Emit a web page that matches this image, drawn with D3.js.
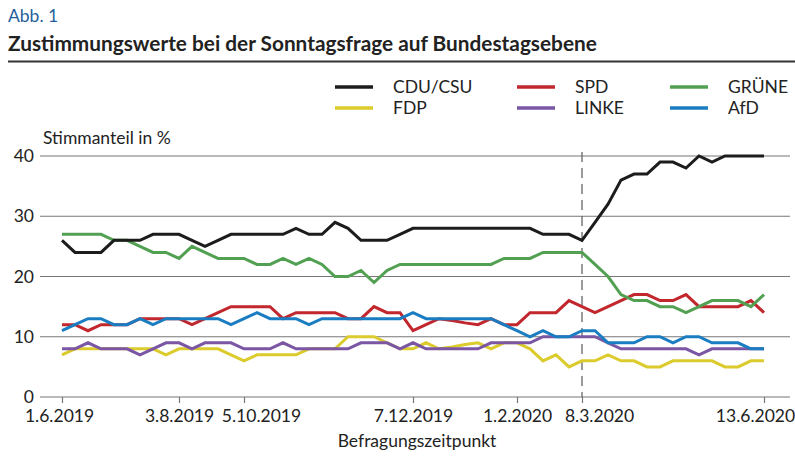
<!DOCTYPE html>
<html>
<head>
    <meta charset="utf-8" />
    <title>Sonntagsfrage</title>
    <style>
        body { margin: 0; background-color: white; }
        text { font-family: Lato, sans-serif; fill: #222; }
    </style>
    <script src="https://cdnjs.cloudflare.com/ajax/libs/d3/7.8.5/d3.min.js"></script>
</head>
<body>
    <script>
        // survey index 0..54, only some dates are labelled
        var tickIdx = [0, 9, 14, 27, 35, 40, 54];
        var tickLabels = ['1.6.2019', '3.8.2019', '5.10.2019', '7.12.2019', '1.2.2020', '8.3.2020', '13.6.2020'];
        var tickShift = [-3, 0, 17, 0, 0, 17, -9];
        var markIdx = 40; // 8.3.2020, dashed line

        var parties = ['CDU/CSU', 'SPD', 'GRÜNE', 'FDP', 'LINKE', 'AfD'];
        var colors = ['#1c1c1c', '#c1272d', '#52a052', '#dccb2c', '#7a56a4', '#1a7dc2'];

        var cdu = [26,24,24,24,26,26,26,27,27,27,26,25,26,27,27,27,27,27,28,27,27,29,28,26,26,26,27,28,28,28,28,28,28,28,28,28,28,27,27,27,26,29,32,36,37,37,39,39,38,40,39,40,40,40,40];
        var spd = [12,12,11,12,12,12,13,13,13,13,12,13,14,15,15,15,15,13,14,14,14,14,13,13,15,14,14,11,12,13,12.7,12.3,12,13,12,12,14,14,14,16,15,14,15,16,17,17,16,16,17,15,15,15,15,16,14];
        var gruene = [27,27,27,27,26,26,25,24,24,23,25,24,23,23,23,22,22,23,22,23,22,20,20,21,19,21,22,22,22,22,22,22,22,22,23,23,23,24,24,24,24,22,20,17,16,16,15,15,14,15,16,16,16,15,17];
        var fdp = [7,8,8,8,8,8,8,8,7,8,8,8,8,7,6,7,7,7,7,8,8,8,10,10,10,9,8,8,9,8,8.3,8.7,9,8,9,9,8,6,7,5,6,6,7,6,6,5,5,6,6,6,6,5,5,6,6];
        var linke = [8,8,9,8,8,8,7,8,9,9,8,9,9,9,8,8,8,9,8,8,8,8,8,9,9,9,8,9,8,8,8,8,8,9,9,9,9,10,10,10,10,10,9,8,8,8,8,8,8,7,8,8,8,8,8];
        var afd = [11,12,13,13,12,12,13,12,13,13,13,13,13,12,13,14,13,13,13,12,13,13,13,13,13,13,13,14,13,13,13,13,13,13,12,11,10,11,10,10,11,11,9,9,9,10,10,9,10,10,9,9,9,8,8];

        var series = [cdu, spd, gruene, fdp, linke, afd];
        var drawOrder = [3, 4, 1, 5, 2, 0];

        var width = 795, height = 457;
        var fs = '17.5px';

        var svg = d3.select('body').append('svg')
            .attr('width', width)
            .attr('height', height);

        // header
        svg.append('text')
            .attr('x', 8).attr('y', 22)
            .style('font-size', fs)
            .style('fill', '#1f5f9b')
            .text('Abb. 1');

        svg.append('text')
            .attr('x', 8).attr('y', 51)
            .style('font-size', '20.8px')
            .style('font-weight', 'bold')
            .text('Zustimmungswerte bei der Sonntagsfrage auf Bundestagsebene');

        svg.append('line')
            .attr('x1', 8).attr('x2', 795)
            .attr('y1', 61.5).attr('y2', 61.5)
            .style('stroke', '#333')
            .style('stroke-width', 2);

        // legend
        var legX = [335, 517, 670];
        var legY = [87, 108];
        var leg = svg.selectAll('.leg')
            .data(parties)
            .enter().append('g')
            .attr('class', 'leg')
            .attr('transform', (d, i) => 'translate(' + legX[i % 3] + ',' + legY[Math.floor(i / 3)] + ')');
        leg.append('line')
            .attr('x1', 0).attr('x2', 38)
            .style('stroke', (d, i) => colors[i])
            .style('stroke-width', 3.5);
        leg.append('text')
            .attr('x', 58).attr('dy', '0.35em')
            .style('font-size', fs)
            .text(d => d);

        var x = d3.scalePoint()
            .domain(d3.range(cdu.length))
            .range([62, 764]);

        var y = d3.scaleLinear()
            .domain([0, 40])
            .range([397, 156]);

        // grid
        svg.append('g')
            .selectAll('line')
            .data([10, 20, 30, 40])
            .enter().append('line')
            .attr('x1', 40).attr('x2', 790)
            .attr('y1', d => y(d)).attr('y2', d => y(d))
            .style('stroke', '#777')
            .style('stroke-width', 1.2);

        // y axis
        var yAxis = svg.append('g')
            .attr('transform', 'translate(34,0)')
            .call(d3.axisLeft(y).tickValues([0, 10, 20, 30, 40]).tickSize(0).tickPadding(0));
        yAxis.select('.domain').remove();
        yAxis.selectAll('text')
            .style('font-family', 'Lato, sans-serif')
            .style('font-size', fs)
            .style('fill', '#222');

        svg.append('text')
            .attr('x', 43).attr('y', 144)
            .style('font-size', fs)
            .text('Stimmanteil in %');

        // x axis
        var xAxis = svg.append('g')
            .attr('transform', 'translate(0,397)')
            .call(d3.axisBottom(x)
                .tickValues(tickIdx)
                .tickFormat((d, i) => tickLabels[i])
                .tickSize(6)
                .tickSizeOuter(0)
                .tickPadding(7));
        xAxis.select('.domain')
            .attr('d', 'M40,0H790')
            .style('stroke', '#777')
            .style('stroke-width', 1.2);
        xAxis.selectAll('.tick line')
            .style('stroke', '#777')
            .style('stroke-width', 1.2);
        xAxis.selectAll('.tick text')
            .attr('dx', (d, i) => tickShift[i])
            .style('font-family', 'Lato, sans-serif')
            .style('font-size', fs)
            .style('fill', '#222');

        svg.append('text')
            .attr('x', 417).attr('y', 447)
            .attr('text-anchor', 'middle')
            .style('font-size', fs)
            .text('Befragungszeitpunkt');

        // dashed marker
        svg.append('line')
            .attr('x1', x(markIdx)).attr('x2', x(markIdx))
            .attr('y1', 152).attr('y2', 397)
            .style('stroke', '#666')
            .style('stroke-width', 1.3)
            .style('stroke-dasharray', '10,6');

        // lines
        var line = d3.line()
            .x((d, i) => x(i))
            .y(d => y(d));

        svg.append('g')
            .selectAll('path')
            .data(drawOrder)
            .enter().append('path')
            .attr('d', k => line(series[k]))
            .style('fill', 'none')
            .style('stroke', k => colors[k])
            .style('stroke-width', 3)
            .style('stroke-linejoin', 'miter');
    </script>
</body>
</html>
